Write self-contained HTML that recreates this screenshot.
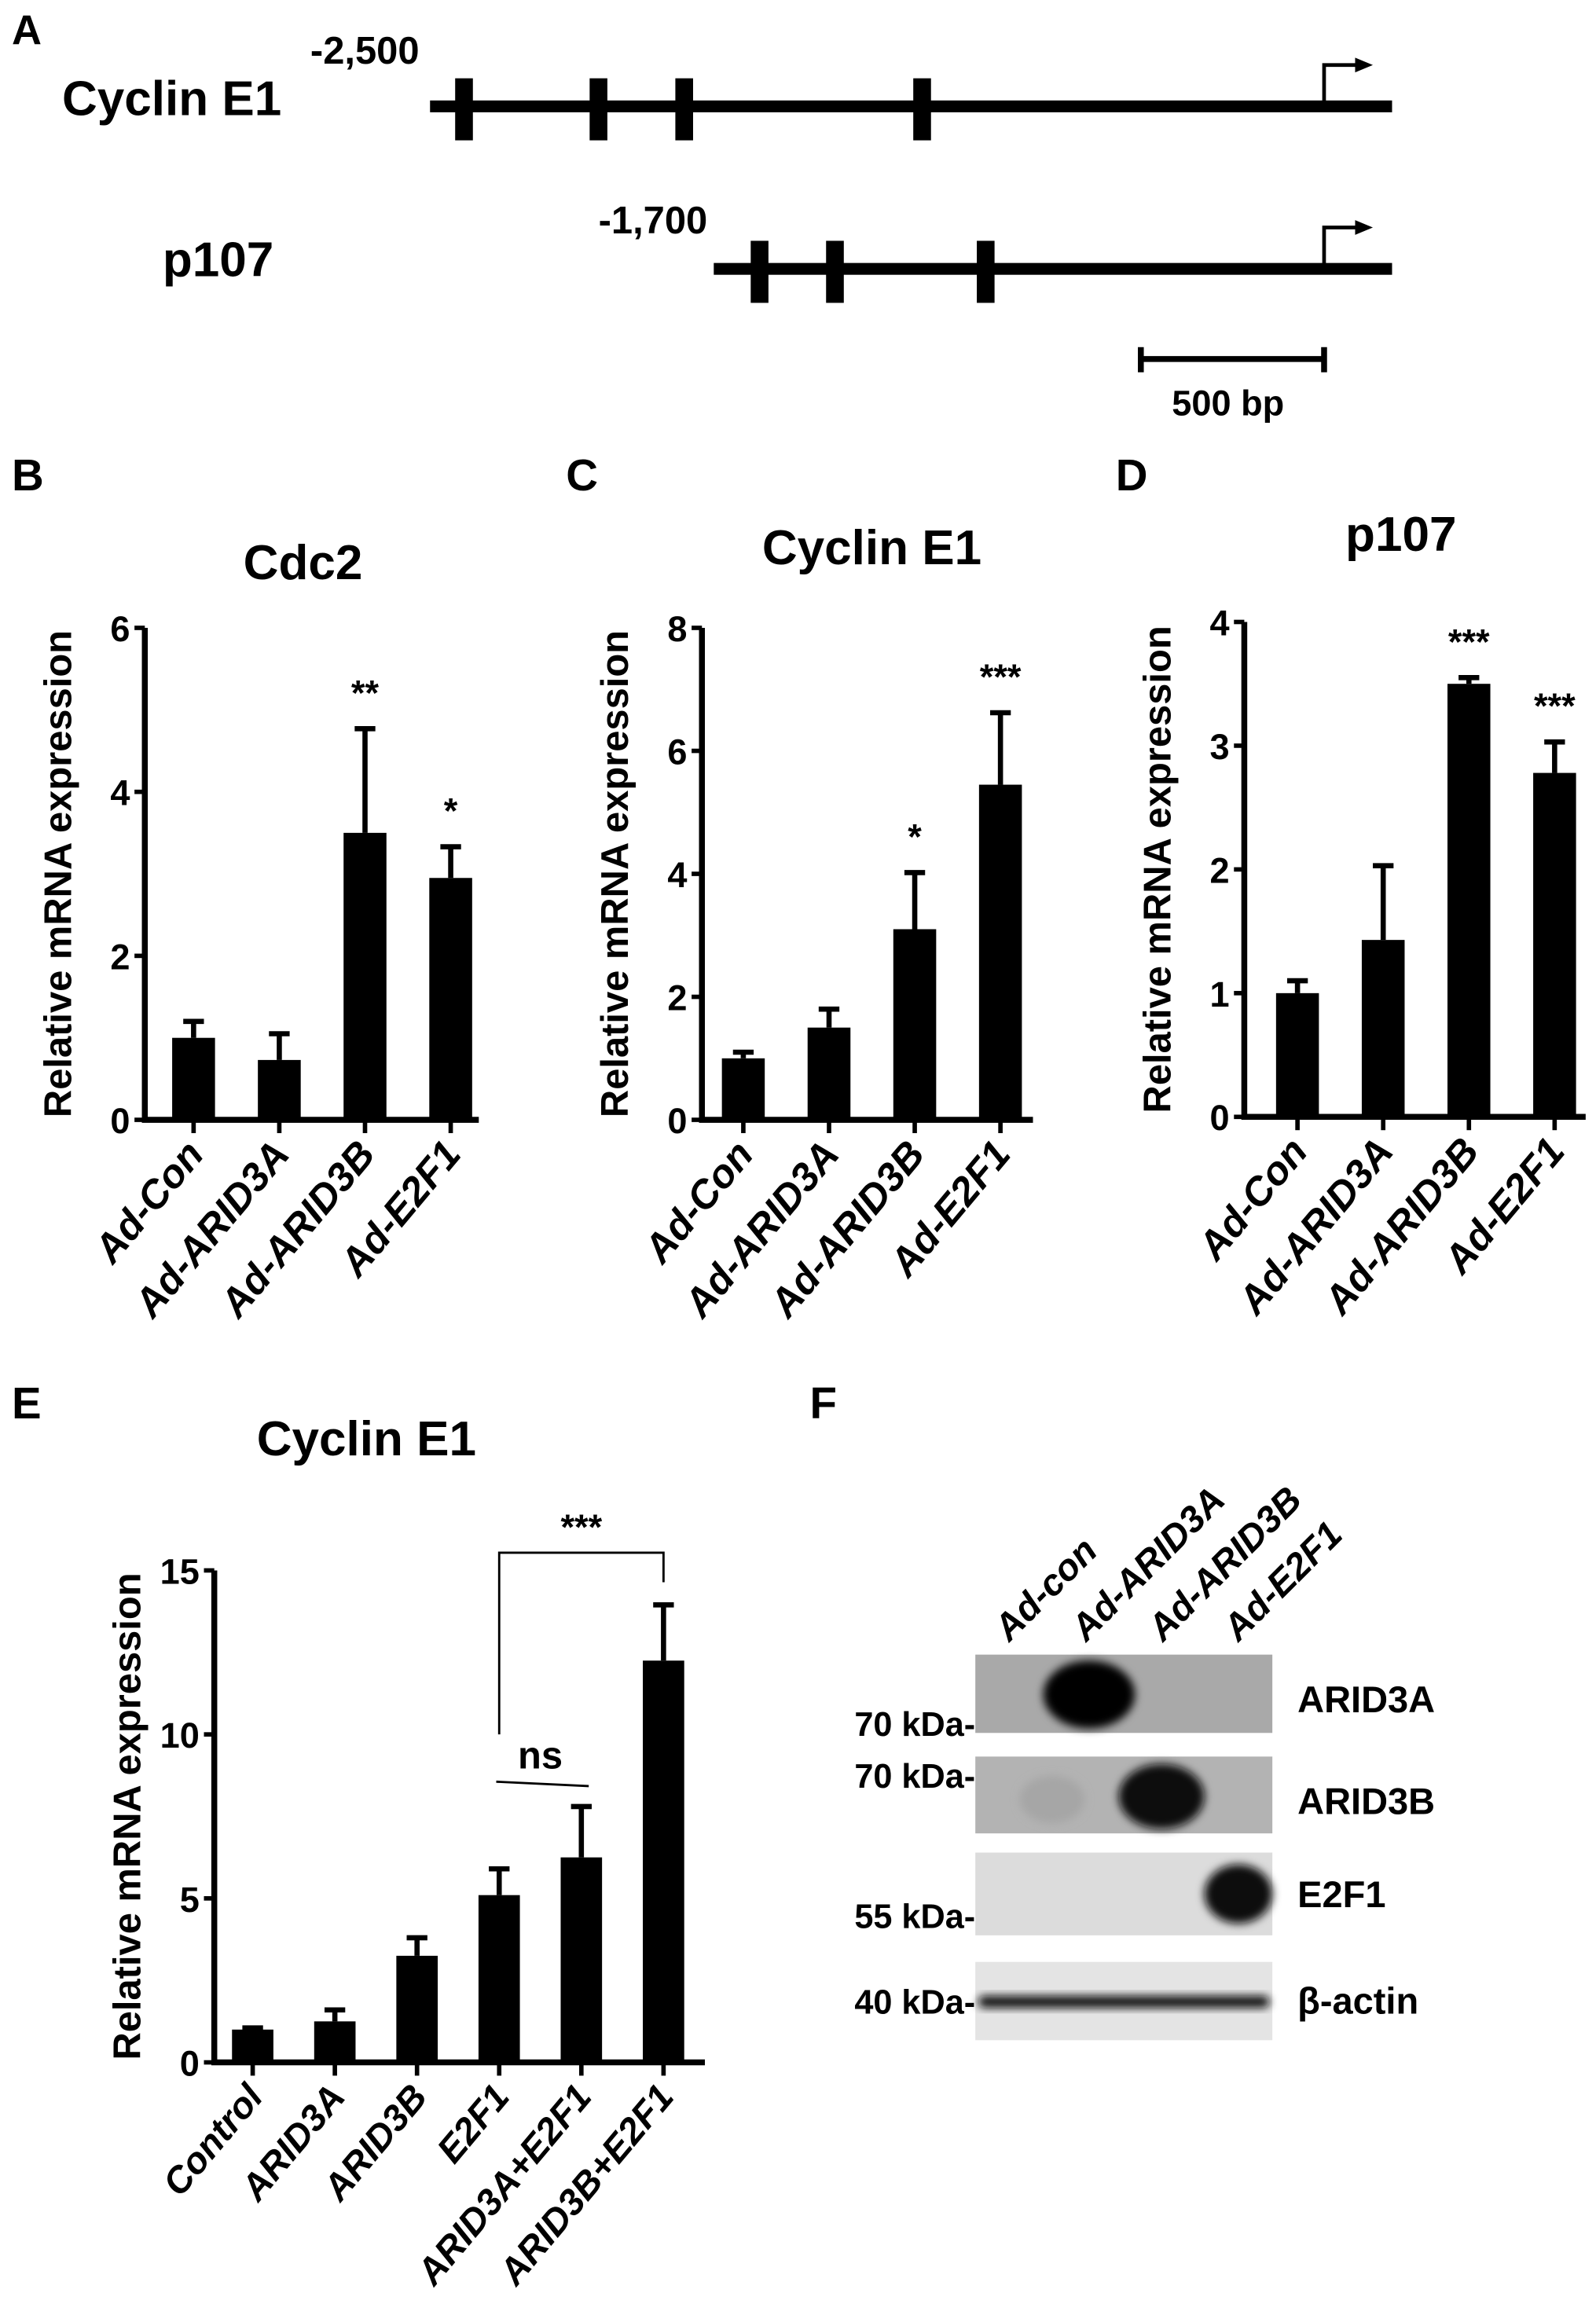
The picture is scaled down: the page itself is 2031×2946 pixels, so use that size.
<!DOCTYPE html>
<html><head><meta charset="utf-8"><style>
html,body{margin:0;padding:0;background:#fff}
svg{display:block}
text{font-family:"Liberation Sans",Arial,sans-serif;font-weight:bold;fill:#000}
</style></head><body>
<svg id="fig" width="2031" height="2946" viewBox="0 0 1080 1567" preserveAspectRatio="none" xmlns="http://www.w3.org/2000/svg">
<defs><filter id="blur" x="-50%" y="-50%" width="200%" height="200%"><feGaussianBlur stdDeviation="3"/></filter></defs>
<g id="panelA">
<text x="8" y="30" font-size="28">A</text>
<text x="42" y="78" font-size="33">Cyclin E1</text>
<text x="210" y="43" font-size="26">-2,500</text>
<rect x="291" y="68" width="651" height="8"/>
<rect x="308" y="53" width="12" height="42"/>
<rect x="399" y="53" width="12" height="42"/>
<rect x="457" y="53" width="12" height="42"/>
<rect x="618" y="53" width="12" height="42"/>
<path d="M896 72V44H918" stroke="#000" stroke-width="2.5" fill="none"/>
<path d="M917 39L929 44L917 49Z"/>
<text x="110" y="187" font-size="33">p107</text>
<text x="405" y="158" font-size="26">-1,700</text>
<rect x="483" y="178" width="459" height="8"/>
<rect x="508" y="163" width="12" height="42"/>
<rect x="559" y="163" width="12" height="42"/>
<rect x="661" y="163" width="12" height="42"/>
<path d="M896 182V154H918" stroke="#000" stroke-width="2.5" fill="none"/>
<path d="M917 149L929 154L917 159Z"/>
<path d="M771 243H897M772 235V252M896 235V252" stroke="#000" stroke-width="4"/>
<text x="831" y="281" font-size="24" text-anchor="middle">500 bp</text>
</g>
<text x="8" y="332" font-size="30">B</text>
<text x="383" y="332" font-size="30">C</text>
<text x="755" y="332" font-size="30">D</text>
<text x="8" y="960" font-size="30">E</text>
<text x="548" y="960" font-size="30">F</text>
<g id="charts"></g>
<g id="panelF">
<rect x="660" y="1120" width="201" height="53" fill="#a9a9a9"/>
<ellipse cx="737" cy="1147" rx="31" ry="23" fill="#000" filter="url(#blur)"/>
<rect x="660" y="1189" width="201" height="52" fill="#b3b3b3"/>
<ellipse cx="712" cy="1218" rx="22" ry="16" fill="#a6a6a6" filter="url(#blur)"/>
<ellipse cx="786" cy="1216" rx="29" ry="22" fill="#111" filter="url(#blur)"/>
<rect x="660" y="1254" width="201" height="56" fill="#dcdcdc"/>
<ellipse cx="838" cy="1282" rx="23" ry="20" fill="#111" filter="url(#blur)"/>
<rect x="660" y="1328" width="201" height="53" fill="#e4e4e4"/>
<rect x="662" y="1351" width="197" height="8" rx="4" fill="#111" filter="url(#blur)"/>
<text x="878" y="1159" font-size="25">ARID3A</text>
<text x="878" y="1228" font-size="25">ARID3B</text>
<text x="878" y="1291" font-size="25">E2F1</text>
<text x="878" y="1363" font-size="25" font-weight="normal">β-actin</text>
<text x="660" y="1175" font-size="23" text-anchor="end">70 kDa-</text>
<text x="660" y="1210" font-size="23" text-anchor="end">70 kDa-</text>
<text x="660" y="1305" font-size="23" text-anchor="end">55 kDa-</text>
<text x="660" y="1363" font-size="23" text-anchor="end">40 kDa-</text>
<text transform="translate(683,1112) rotate(-45)" font-size="25" font-style="italic">Ad-con</text>
<text transform="translate(735,1112) rotate(-45)" font-size="25" font-style="italic">Ad-ARID3A</text>
<text transform="translate(787,1112) rotate(-45)" font-size="25" font-style="italic">Ad-ARID3B</text>
<text transform="translate(838,1112) rotate(-45)" font-size="25" font-style="italic">Ad-E2F1</text>
</g>
</svg>
<script>
const adCats = ["Ad-Con","Ad-ARID3A","Ad-ARID3B","Ad-E2F1"];
const cdc2Vals = [1.0,0.73,3.5,2.95];
const cdc2Errs = [0.2,0.32,1.27,0.38];
const cdc2Stars = ["","","**","*"];
const cdc2Ticks = [0,2,4,6];
const ccne1Vals = [1.0,1.5,3.1,5.45];
const ccne1Errs = [0.1,0.3,0.92,1.17];
const ccne1Stars = ["","","*","***"];
const ccne1Ticks = [0,2,4,6,8];
const p107Vals = [1.0,1.43,3.5,2.78];
const p107Errs = [0.1,0.6,0.05,0.25];
const p107Stars = ["","","***","***"];
const p107Ticks = [0,1,2,3,4];
const eCats = ["Control","ARID3A","ARID3B","E2F1","ARID3A+E2F1","ARID3B+E2F1"];
const eVals = [1.0,1.25,3.25,5.1,6.25,12.25];
const eErrs = [0.05,0.35,0.55,0.8,1.55,1.7];
const eTicks = [0,5,10,15];

const NS="http://www.w3.org/2000/svg";
const root=document.getElementById('charts');
function mk(tag,attrs,parent){const e=document.createElementNS(NS,tag);for(const k in attrs)e.setAttribute(k,attrs[k]);(parent||root).appendChild(e);return e;}

function chart(cfg){
  const g=mk('g',{});
  
  
  const y=v=>cfg.y0-(v/cfg.max)*(cfg.y0-cfg.yTop);
  const n=cfg.cats.length;
  const x=i=>cfg.x0+cfg.first+i*cfg.step;
  const t=mk('text',{x:cfg.tx,y:cfg.ty,'font-size':33,'text-anchor':'middle'},g);t.textContent=cfg.title;
  
  
  const yt=mk('text',{transform:`translate(${cfg.x0-50},${(cfg.y0+cfg.yTop)/2}) rotate(-90)`,'font-size':26,'text-anchor':'middle'},g);yt.textContent="Relative mRNA expression";
  
  
  for(let i=0;i<n;i++){
    const v=cfg.vals[i],e=cfg.errs[i],cx=x(i),w=cfg.bw;
    const eb=mk('path',{d:`M${cx} ${y(v)}V${y(v+e)}M${cx-7} ${y(v+e)}H${cx+7}`,stroke:'#000','stroke-width':3.5,fill:'none'},g);
    
    
    const b=mk('rect',{x:cx-w/2,y:y(v),width:w,height:cfg.y0-y(v),fill:'#000'},g);
    
    
    const tk=mk('line',{x1:cx,x2:cx,y1:cfg.y0,y2:cfg.y0+9,stroke:'#000','stroke-width':3},g);
    
    
    const lb=mk('text',{transform:`translate(${cx+8},${cfg.y0+24}) rotate(-50)`,'font-size':cfg.lfs,'font-style':'italic','text-anchor':'end'},g);lb.textContent=cfg.cats[i];
    
    
    if(cfg.stars&&cfg.stars[i]){const s=mk('text',{x:cx,y:y(v+e)-16,'font-size':24,'font-weight':'normal','text-anchor':'middle'},g);s.textContent=cfg.stars[i];
      
      }
  }
  cfg.ticks.forEach(tv=>{
    const l=mk('line',{x1:cfg.x0-7,x2:cfg.x0,y1:y(tv),y2:y(tv),stroke:'#000','stroke-width':3},g);
    
    
    const tl=mk('text',{x:cfg.x0-10,y:y(tv)+9,'font-size':24,'text-anchor':'end'},g);tl.textContent=tv;
    
    
  });
  const ax=mk('path',{d:`M${cfg.x0} ${cfg.yTop}V${cfg.y0}H${cfg.xEnd}`,stroke:'#000','stroke-width':4,fill:'none'},g);
  
  
  return {g,x,y};
}
chart({name:'chart-cdc2',title:'Cdc2',tx:205,ty:392,cats:adCats,vals:cdc2Vals,errs:cdc2Errs,stars:cdc2Stars,ticks:cdc2Ticks,max:6,x0:98,y0:758,yTop:425,xEnd:324,first:33,step:58,bw:29,lfs:27});
chart({name:'chart-cyclin-e1',title:'Cyclin E1',tx:590,ty:382,cats:adCats,vals:ccne1Vals,errs:ccne1Errs,stars:ccne1Stars,ticks:ccne1Ticks,max:8,x0:475,y0:758,yTop:425,xEnd:699,first:28,step:58,bw:29,lfs:27});
chart({name:'chart-p107',title:'p107',tx:948,ty:373,cats:adCats,vals:p107Vals,errs:p107Errs,stars:p107Stars,ticks:p107Ticks,max:4,x0:842,y0:756,yTop:421,xEnd:1073,first:36,step:58,bw:29,lfs:27});
const E=chart({name:'chart-e-cyclin-e1',title:'Cyclin E1',tx:248,ty:985,cats:eCats,vals:eVals,errs:eErrs,stars:null,ticks:eTicks,max:15,x0:145,y0:1396,yTop:1063,xEnd:477,first:26,step:55.6,bw:28,lfs:25});
const br=mk('path',{d:`M${E.x(3)} ${E.y(10)}V1051H${E.x(5)}V1071`,stroke:'#000','stroke-width':1.5,fill:'none'},E.g);


const st=mk('text',{x:(E.x(3)+E.x(5))/2,y:1042,'font-size':24,'font-weight':'normal','text-anchor':'middle'},E.g);st.textContent='***';


const nl=mk('line',{x1:E.x(3)-2,y1:1206,x2:E.x(4)+5,y2:1209,stroke:'#000','stroke-width':1.5},E.g);


const nt=mk('text',{x:(E.x(3)+E.x(4))/2,y:1197,'font-size':26,'text-anchor':'middle'},E.g);nt.textContent='ns';


</script>
</body></html>
